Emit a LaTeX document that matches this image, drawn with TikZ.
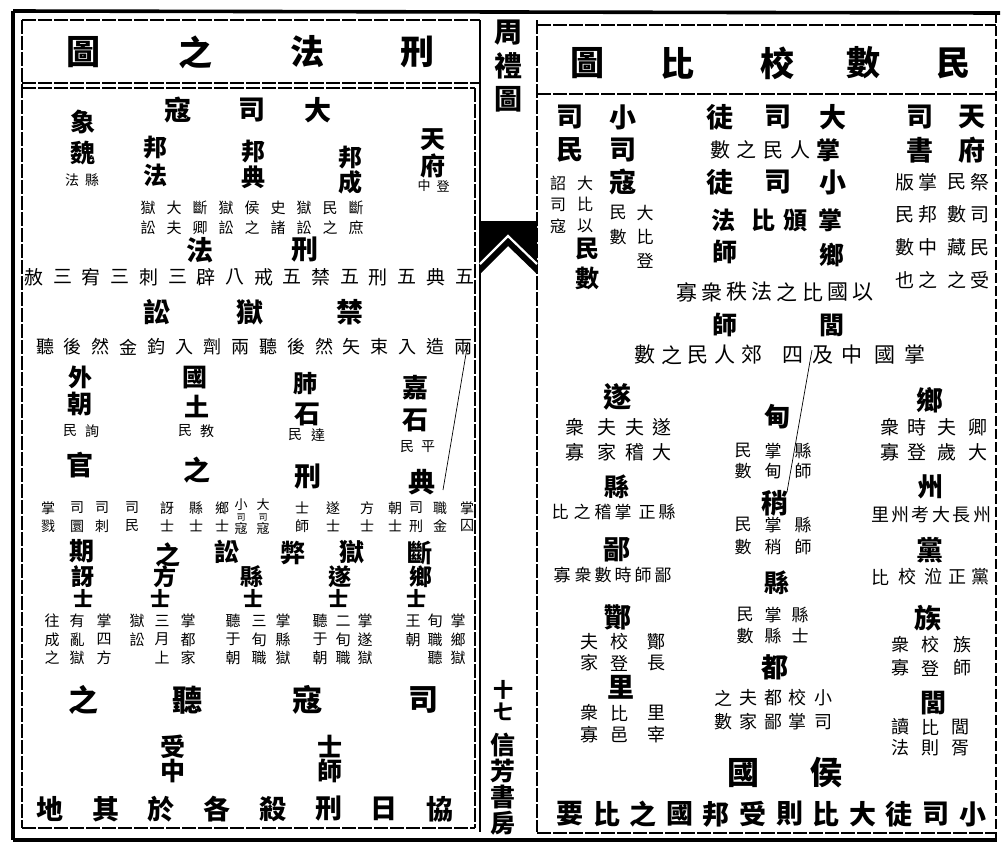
\documentclass[tikz,border=0pt]{standalone}
\usepackage{fontspec}
\newfontfamily\cjk{Noto Sans CJK TC}
\newcounter{tn}
\tikzset{
  txt/.style={inner sep=0pt, outer sep=0pt, anchor=center},
  worn/.style={line width=1.1pt, dash pattern=on 14pt off 2pt},
  heavy/.style={line width=3.6pt},
  crack/.style={line width=0.7pt}
}
\newcommand\T[4]{\stepcounter{tn}\node[txt,font=\cjk\fontsize{#3}{#3}\selectfont] (t\arabic{tn}) at (#1,#2) {#4};}
\newcommand\B[4]{\stepcounter{tn}\node[txt,font=\cjk\bfseries\fontsize{#3}{#3}\selectfont] (t\arabic{tn}) at (#1,#2) {#4};}
\newcommand\R[5]{\foreach \xx [count=\i from 0] in {#5}{\T{#1+\i*#2}{#3}{#4}{\xx}}}
\newcommand\RB[5]{\foreach \xx [count=\i from 0] in {#5}{\B{#1+\i*#2}{#3}{#4}{\xx}}}
\newcommand\C[5]{\foreach \xx [count=\i from 0] in {#5}{\T{#1}{#2+\i*#3}{#4}{\xx}}}
\newcommand\CB[5]{\foreach \xx [count=\i from 0] in {#5}{\B{#1}{#2+\i*#3}{#4}{\xx}}}
\begin{document}
\begin{tikzpicture}[x=1pt,y=-1pt]
\useasboundingbox (0,0) rectangle (1002,847);
\fill[white] (0,0) rectangle (1002,847);
% ---------- frames ----------
\draw[heavy] (13,11) -- (1000,13);
\draw[heavy] (13,11) -- (13,840);
\draw[heavy] (13,840) -- (997,840);
\draw[line width=2pt, dash pattern=on 10pt off 3pt] (996,13) -- (996,840);
% left page
\draw[worn] (22,20) -- (480,20);
\draw[worn] (22,20) -- (22,828);
\draw[worn] (22,83) -- (480,83);
\draw[worn] (22,88) -- (475,88);
\draw[worn] (475,88) -- (475,828);
\draw[worn] (22,828) -- (475,828);
% centre strip
\draw[line width=1.3pt] (480,20) -- (480,832);
\draw[worn] (537,20) -- (537,832);
\draw[line width=1.1pt] (480,222) -- (537,222);
\fill (480,222) -- (537,222) -- (537,274) -- (508,246) -- (480,274) -- cycle;
\draw[white, line width=2.2pt] (480,264) -- (508,236) -- (537,264);
% right page
\draw[worn] (537,25) -- (996,25);
\draw[worn] (537,94) -- (996,94);
\draw[worn] (537,833) -- (996,833);
% cracks
\draw[crack] (468,342) -- (443,490);
\draw[crack] (812,350) -- (787,492);
% ---------- left page text ----------
\B{83}{52}{34}{圖} \B{195}{52}{34}{之} \B{307}{52}{34}{法} \B{417}{52}{34}{刑}
\B{178}{110}{27}{寇} \B{252}{110}{27}{司} \B{318}{110}{27}{大}
\B{83}{122}{25}{象} \B{83}{153}{25}{魏} \T{72}{180}{14}{法} \T{92}{180}{14}{縣}
\B{155}{148}{24}{邦} \B{155}{175}{24}{法}
\B{253}{152}{24}{邦} \B{253}{177}{24}{典}
\B{350}{158}{24}{邦} \B{350}{182}{24}{成}
\B{433}{140}{25}{天} \B{433}{166}{25}{府} \T{424}{186}{13}{中} \T{443}{186}{13}{登}
\R{148}{26}{208}{15}{獄,大,斷,獄,侯,史,獄,民,斷}
\R{148}{26}{228}{15}{訟,夫,卿,訟,之,諸,訟,之,庶}
\B{200}{250}{27}{法} \B{305}{250}{27}{刑}
\R{34}{28.7}{277}{19}{赦,三,宥,三,刺,三,辟,八,戒,五,禁,五,刑,五,典,五}
\B{157}{312}{27}{訟} \B{250}{312}{27}{獄} \B{350}{312}{27}{禁}
\R{45}{27.9}{347}{18}{聽,後,然,金,鈞,入,劑,兩,聽,後,然,矢,束,入,造,兩}
\B{80}{377}{24}{外} \B{80}{404}{25}{朝}
\B{195}{378}{25}{國} \B{197}{406}{25}{土}
\B{305}{384}{24}{肺} \B{307}{414}{26}{石}
\B{415}{388}{26}{嘉} \B{415}{420}{26}{石}
\T{70}{431}{14}{民} \T{92}{431}{14}{詢}
\T{185}{431}{14}{民} \T{207}{431}{14}{教}
\T{295}{435}{14}{民} \T{318}{435}{14}{達}
\T{407}{447}{14}{民} \T{428}{447}{14}{平}
\B{80}{465}{27}{官} \B{197}{470}{27}{之} \B{308}{477}{27}{刑} \B{422}{482}{27}{典}
\foreach \x/\a/\b in {48/掌/戮,77/司/圜,102/司/刺,132/司/民,167/訝/士,196/縣/士,222/鄉/士,302/士/師,333/遂/士,367/方/士,395/朝/士,416/司/刑,440/職/金,467/掌/囚}{\T{\x}{508}{14}{\a}\T{\x}{526}{14}{\b}}
\T{241}{505}{13}{小}\T{241}{517}{9}{司}\T{241}{529}{13}{寇}
\T{263}{505}{13}{大}\T{263}{517}{9}{司}\T{263}{529}{13}{寇}
\B{82}{551}{25}{期} \B{168}{555}{25}{之} \B{227}{552}{25}{訟} \B{293}{553}{25}{弊} \B{352}{552}{25}{獄} \B{420}{553}{25}{斷}
\B{83}{577}{23}{訝} \B{165}{577}{23}{方} \B{252}{577}{23}{縣} \B{340}{577}{23}{遂} \B{421}{577}{23}{鄉}
\B{83}{599}{20}{士} \B{160}{599}{20}{士} \B{253}{599}{20}{士} \B{338}{599}{20}{士} \B{416}{599}{20}{士}
\C{52}{621}{18.5}{15}{往,成,之} \C{77}{621}{18.5}{15}{有,亂,獄} \C{104}{621}{18.5}{15}{掌,四,方}
\C{137}{621}{18.5}{15}{獄,訟} \C{162}{621}{18.5}{15}{三,月,上} \C{188}{621}{18.5}{15}{掌,都,家}
\C{233}{621}{18.5}{15}{聽,于,朝} \C{259}{621}{18.5}{15}{三,旬,職} \C{283}{621}{18.5}{15}{掌,縣,獄}
\C{320}{621}{18.5}{15}{聽,于,朝} \C{343}{621}{18.5}{15}{二,旬,職} \C{365}{621}{18.5}{15}{掌,遂,獄}
\C{413}{621}{18.5}{15}{王,朝} \C{435}{621}{18.5}{15}{旬,職,聽} \C{458}{621}{18.5}{15}{掌,鄉,獄}
\B{83}{700}{30}{之} \B{187}{700}{30}{聽} \B{307}{700}{30}{寇} \B{423}{700}{30}{司}
\B{173}{747}{25}{受} \B{330}{747}{25}{士} \B{173}{771}{25}{中} \B{330}{771}{25}{師}
\RB{50}{55.7}{809}{27}{地,其,於,各,殺,刑,日,協}
% ---------- centre strip ----------
\CB{508}{33}{33}{28}{周,禮,圖}
\CB{503}{690}{22}{20}{十,七}
\CB{503}{745}{26}{25}{信,芳,書,房}
% ---------- right page text ----------
\B{587}{63}{34}{圖} \B{677}{63}{34}{比} \B{777}{63}{34}{校} \B{863}{63}{34}{數} \B{953}{63}{34}{民}
\B{570}{117}{27}{司} \B{623}{117}{27}{小} \B{720}{117}{27}{徒} \B{778}{117}{27}{司} \B{833}{117}{27}{大} \B{920}{117}{27}{司} \B{972}{117}{27}{天}
\B{570}{150}{27}{民} \B{623}{150}{27}{司}
\R{720}{26.7}{150}{20}{數,之,民,人} \B{828}{150}{24}{掌}
\B{920}{150}{27}{書} \B{972}{150}{27}{府}
\C{558}{183}{21.5}{16}{詔,司,寇} \C{585}{183}{21.5}{16}{大,比,以}
\B{623}{182}{27}{寇}
\B{720}{182}{27}{徒} \B{778}{182}{27}{司} \B{833}{182}{27}{小}
\B{587}{249}{24}{民} \B{587}{278}{24}{數}
\C{618}{213}{24}{17}{民,數} \C{645}{213}{24}{17}{大,比,登}
\B{723}{220}{24}{法} \B{763}{220}{24}{比} \B{795}{220}{24}{頒} \B{830}{220}{24}{掌}
\B{725}{252}{25}{師} \B{832}{255}{25}{鄉}
\C{905}{182}{32.7}{19}{版,民,數,也} \C{928}{182}{32.7}{19}{掌,邦,中,之}
\C{957}{182}{32.7}{19}{民,數,藏,之} \C{980}{182}{32.7}{19}{祭,司,民,受}
\R{687}{25.1}{292}{21}{寡,衆,秩,法,之,比,國,以}
\B{725}{325}{25}{師} \B{832}{325}{25}{閭}
\foreach \x/\a in {645/數,672/之,698/民,725/人,752/郊,793/四,823/及,852/中,885/國,915/掌}{\T{\x}{355}{21}{\a}}
% left column
\B{617}{397}{28}{遂}
\foreach \x/\a/\b in {575/衆/寡,607/夫/家,635/夫/稽,662/遂/大}{\T{\x}{427}{19}{\a}\T{\x}{452}{19}{\b}}
\B{617}{487}{25}{縣}
\foreach \x/\a in {560/比,582/之,603/稽,623/掌,647/正,667/縣}{\T{\x}{512}{17}{\a}}
\B{617}{550}{27}{鄙}
\foreach \x/\a in {562/寡,583/衆,603/數,623/時,643/師,663/鄙}{\T{\x}{575}{17}{\a}}
\B{618}{617}{27}{酇}
\foreach \x/\a/\b in {589/夫/家,619/校/登,656/酇/長}{\T{\x}{642}{18}{\a}\T{\x}{663}{18}{\b}}
\B{621}{687}{27}{里}
\foreach \x/\a/\b in {589/衆/寡,619/比/邑,656/里/宰}{\T{\x}{713}{18}{\a}\T{\x}{735}{18}{\b}}
% middle column
\B{777}{417}{26}{甸}
\foreach \x/\a/\b in {743/民/數,773/掌/甸,803/縣/師}{\T{\x}{451}{17}{\a}\T{\x}{471}{17}{\b}}
\B{775}{503}{27}{稍}
\foreach \x/\a/\b in {743/民/數,773/掌/稍,803/縣/師}{\T{\x}{525}{17}{\a}\T{\x}{547}{17}{\b}}
\B{777}{583}{25}{縣}
\foreach \x/\a/\b in {745/民/數,773/掌/縣,800/縣/士}{\T{\x}{615}{17}{\a}\T{\x}{636}{17}{\b}}
\B{775}{667}{27}{都}
\foreach \x/\a/\b in {723/之/數,748/夫/家,773/都/鄙,797/校/掌,823/小/司}{\T{\x}{698}{18}{\a}\T{\x}{722}{18}{\b}}
\B{743}{773}{32}{國} \B{826}{773}{32}{侯}
% right column
\B{930}{400}{27}{鄉}
\foreach \x/\a/\b in {890/衆/寡,917/時/登,947/夫/歲,978/卿/大}{\T{\x}{427}{19}{\a}\T{\x}{452}{19}{\b}}
\B{930}{487}{26}{州}
\R{880}{20.4}{515}{18}{里,州,考,大,長,州}
\B{930}{550}{27}{黨}
\foreach \x/\a in {880/比,907/校,933/涖,957/正,980/黨}{\T{\x}{577}{18}{\a}}
\B{928}{618}{27}{族}
\foreach \x/\a/\b in {900/衆/寡,930/校/登,962/族/師}{\T{\x}{645}{18}{\a}\T{\x}{668}{18}{\b}}
\B{933}{703}{26}{閭}
\foreach \x/\a/\b in {900/讀/法,930/比/則,960/閭/胥}{\T{\x}{727}{18}{\a}\T{\x}{748}{18}{\b}}
\RB{570}{36.6}{814}{27}{要,比,之,國,邦,受,則,比,大,徒,司,小}
\end{tikzpicture}
\end{document}
